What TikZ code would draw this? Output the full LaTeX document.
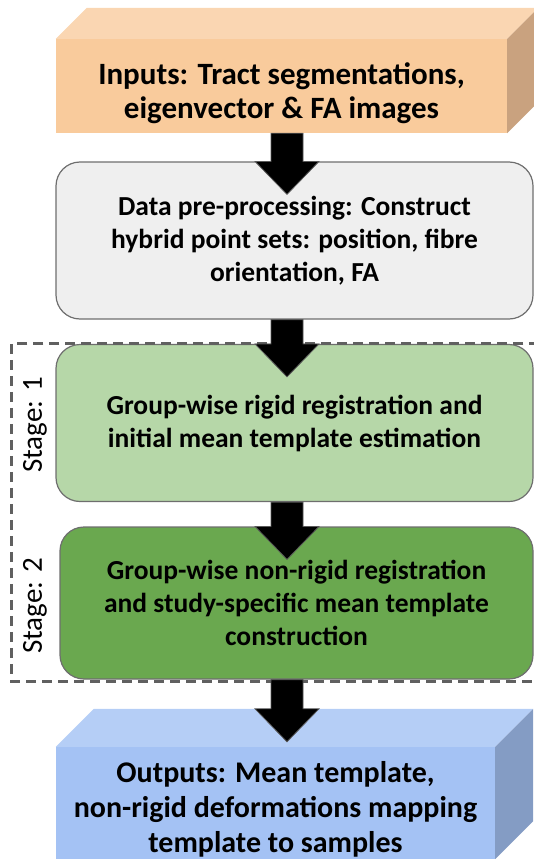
\documentclass[tikz,border=0pt]{standalone}
\usepackage{fontspec}
\setmainfont{Carlito}
\usetikzlibrary{calc}

\definecolor{inFront}{HTML}{F9CB9C}
\definecolor{inTop}{HTML}{FAD6B2}
\definecolor{inSide}{HTML}{C9A27F}
\definecolor{dataFill}{HTML}{EFEFEF}
\definecolor{boxLine}{HTML}{6E6E6E}
\definecolor{stOne}{HTML}{B6D7A8}
\definecolor{stTwo}{HTML}{6AA84F}
\definecolor{outFront}{HTML}{A4C2F4}
\definecolor{outTop}{HTML}{B5CEF6}
\definecolor{outSide}{HTML}{849CC4}
\definecolor{dashGray}{HTML}{606060}
\definecolor{arrowEdge}{HTML}{5A5A5A}

\newcommand\flowarrow[2]{% #1 start anchor, #2 anchor where the head begins
  \filldraw[flowarr] let \p1=(#1), \p2=(#2) in
    (271pt,\y1) -- (271pt,\y2) -- (255pt,\y2) -- (287pt,\y2-33pt)
    -- (319pt,\y2) -- (303pt,\y2) -- (303pt,\y1) -- cycle;}

\begin{document}
\begin{tikzpicture}[x=1pt,y=-1pt,
  roundbox/.style={rectangle, draw=boxLine, line width=1.2pt, rounded corners=24pt,
    align=center, inner sep=0pt, font=\bfseries\fontsize{27.5}{33}\selectfont},
  frontface/.style={rectangle, inner sep=0pt},
  intxt/.style={align=center, inner sep=0pt, font=\bfseries\fontsize{31}{34.5}\selectfont},
  outtxt/.style={align=center, inner sep=0pt, font=\bfseries\fontsize{30}{35}\selectfont},
  stagelab/.style={rotate=90, inner sep=0pt, font=\fontsize{29}{34}\selectfont},
  groupbox/.style={rectangle, inner sep=0pt},
  grouplinestyle/.style={draw=dashGray, line width=3pt, dash pattern=on 10pt off 6pt},
  flowarr/.style={fill=black, draw=arrowEdge, line width=0.8pt, line join=miter}]
\useasboundingbox (0,0) rectangle (534,859);
\clip (0,0) rectangle (534,859);

% Inputs (3D box)
\node[frontface, fill=inFront, minimum width=451pt, minimum height=94pt] (inbox) at (281.5,86) {};
\fill[inTop] (inbox.north west) -- ++(31,-31) -- ($(inbox.north east)+(31,-31)$) -- (inbox.north east) -- cycle;
\fill[inSide] (inbox.north east) -- ++(31,-31) -- ($(inbox.south east)+(31,-31)$) -- (inbox.south east) -- cycle;
\node[intxt] (intext) at ($(inbox.center)+(0,7)$) {Inputs: Tract segmentations,\\eigenvector \& FA images};

% Data pre-processing
\node[roundbox, fill=dataFill, minimum width=477pt, minimum height=157pt] (data) at (294.5,240.5)
  {Data pre-processing: Construct\\hybrid point sets: position, fibre\\orientation, FA};

% Stage boxes
\node[roundbox, fill=stOne, minimum width=477pt, minimum height=157pt] (stone) at (294.5,423)
  {Group-wise rigid registration and\\initial mean template estimation};
\node[roundbox, fill=stTwo, minimum width=473pt, minimum height=152pt] (sttwo) at (296.5,603)
  {Group-wise non-rigid registration\\and study-specific mean template\\construction};

% Dashed group frame
\node[groupbox, minimum width=534pt, minimum height=337pt] (stages) at (279,512.5) {};
\draw[grouplinestyle] (stages.north west) rectangle (stages.south east);
\node[stagelab] (labone) at (35,425) {Stage: 1};
\node[stagelab] (labtwo) at (35,606) {Stage: 2};

% Outputs (3D box)
\node[frontface, fill=outFront, minimum width=439pt, minimum height=112pt] (outbox) at (275.5,803) {};
\fill[outTop] (outbox.north west) -- ++(38,-38) -- ($(outbox.north east)+(38,-38)$) -- (outbox.north east) -- cycle;
\fill[outSide] (outbox.north east) -- ++(38,-38) -- ($(outbox.south east)+(38,-38)$) -- (outbox.south east) -- cycle;
\coordinate (outback) at ($(outbox.north)+(0,-38)$);
\node[outtxt] (outtext) at ($(outbox.center)+(0,6)$) {Outputs: Mean template,\\non-rigid deformations mapping\\template to samples};

% Connectors (block arrows)
\flowarrow{inbox.south}{data.north}
\flowarrow{data.south}{stone.north}
\flowarrow{stone.south}{sttwo.north}
\flowarrow{sttwo.south}{outback}
\end{tikzpicture}
\end{document}
